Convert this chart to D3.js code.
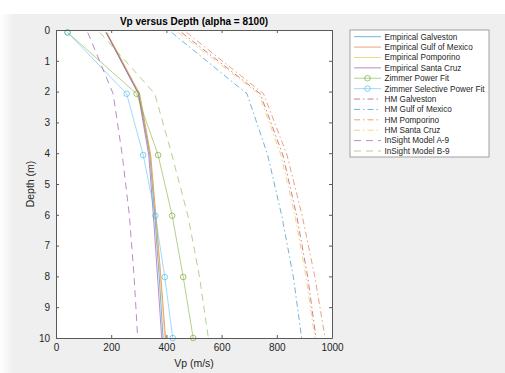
<!DOCTYPE html>
<html>
<head>
<meta charset="utf-8">
<script src="https://cdn.jsdelivr.net/npm/d3@7/dist/d3.min.js"></script>
<style>
  html, body { margin: 0; padding: 0; background: #fff; }
  svg { display: block; font-family: "Liberation Sans", Arial, Helvetica, sans-serif; }
</style>
</head>
<body>
<div id="chart"></div>
<script>
// depth samples (m)
const depths = [0.08, 2.07, 4.06, 6.03, 8.02, 10];

// Vp (m/s) at each depth
const empGalveston = [182, 300, 340, 358, 374, 388];
const empGulf      = [184, 303, 343, 362, 380, 397];
const empPomporino = [183, 302, 342, 361, 378, 394];
const empSantaCruz = [181, 298, 336, 353, 368, 383];
const zimmerPower  = [42, 292, 370, 421, 461, 497];
const zimmerSelect = [42, 256, 316, 360, 394, 423];
const hmGalveston  = [455, 740, 822, 872, 912, 942];
const hmGulf       = [419, 692, 767, 818, 860, 890];
const hmPomporino  = [473, 752, 837, 892, 938, 975];
const hmSantaCruz  = [443, 735, 815, 866, 906, 938];
const insightA9    = [115, 207, 240, 266, 283, 296];
const insightB9    = [159, 358, 420, 478, 520, 552];

const xTicks = [0, 200, 400, 600, 800, 1000];
const yTicks = [0, 1, 2, 3, 4, 5, 6, 7, 8, 9, 10];

const c = ['#0072BD', '#D95319', '#EDB120', '#7E2F8E', '#77AC30', '#4DBEEE', '#A2142F'];

const series = [
    { name: 'Empirical Galveston', v: empGalveston, color: c[0], dash: null },
    { name: 'Empirical Gulf of Mexico', v: empGulf, color: c[1], dash: null },
    { name: 'Empirical Pomporino', v: empPomporino, color: c[2], dash: null },
    { name: 'Empirical Santa Cruz', v: empSantaCruz, color: c[3], dash: null },
    { name: 'Zimmer Power Fit', v: zimmerPower, color: c[4], dash: null, marker: true },
    { name: 'Zimmer Selective Power Fit', v: zimmerSelect, color: c[5], dash: null, marker: true },
    { name: 'HM Galveston', v: hmGalveston, color: c[6], dash: '6,3,1.5,3' },
    { name: 'HM Gulf of Mexico', v: hmGulf, color: c[0], dash: '6,3,1.5,3' },
    { name: 'HM Pomporino', v: hmPomporino, color: c[1], dash: '6,3,1.5,3' },
    { name: 'HM Santa Cruz', v: hmSantaCruz, color: c[2], dash: '6,3,1.5,3' },
    { name: 'InSight Model A-9', v: insightA9, color: c[3], dash: '7,5' },
    { name: 'InSight Model B-9', v: insightB9, color: c[4], dash: '7,5' }
];

const W = 505, H = 373;
const m = { left: 56, right: 173, top: 30, bottom: 35 };

const svg = d3.select('#chart').append('svg')
    .attr('width', W)
    .attr('height', H);

// window background
const defs = svg.append('defs');
const grad = defs.append('linearGradient').attr('id', 'lg');
grad.append('stop').attr('offset', '0%').attr('stop-color', '#ffffff');
grad.append('stop').attr('offset', '100%').attr('stop-color', '#ececec');
svg.append('rect').attr('x', 0).attr('y', 14).attr('width', 16).attr('height', H - 14).attr('fill', 'url(#lg)');
svg.append('rect').attr('x', 14).attr('y', 14).attr('width', W - 14).attr('height', H - 14).attr('fill', '#efefef');

const x = d3.scaleLinear().domain([0, 1000]).range([m.left, W - m.right]);
const y = d3.scaleLinear().domain([0, 10]).range([m.top, H - m.bottom]);

svg.append('rect')
    .attr('x', x(0)).attr('y', y(0))
    .attr('width', x(1000) - x(0)).attr('height', y(10) - y(0))
    .attr('fill', '#fff');

const line = d3.line()
    .x(d => x(d[0]))
    .y(d => y(d[1]));

const plot = svg.append('g');
series.forEach(s => {
    const pts = s.v.map((v, i) => [v, depths[i]]);
    plot.append('path')
        .datum(pts)
        .attr('d', line)
        .attr('fill', 'none')
        .attr('stroke', s.color)
        .attr('stroke-opacity', 0.55)
        .attr('stroke-width', 1)
        .attr('stroke-dasharray', s.dash);
    if (s.marker) {
        plot.selectAll(null)
            .data(pts)
            .enter().append('circle')
            .attr('cx', d => x(d[0]))
            .attr('cy', d => y(d[1]))
            .attr('r', 2.8)
            .attr('fill', 'none')
            .attr('stroke', s.color)
            .attr('stroke-opacity', 0.7);
    }
});

// axes
const axisColor = '#5a5a5a';
const fmt = d3.format('d');
const xAxis = svg.append('g')
    .attr('transform', `translate(0,${y(10)})`)
    .call(d3.axisBottom(x).tickValues(xTicks).tickFormat(fmt).tickSizeInner(-3).tickSizeOuter(0).tickPadding(6));
const xTop = svg.append('g')
    .attr('transform', `translate(0,${y(0)})`)
    .call(d3.axisTop(x).tickValues(xTicks).tickSizeInner(-3).tickSizeOuter(0).tickFormat(''));
const yAxis = svg.append('g')
    .attr('transform', `translate(${x(0)},0)`)
    .call(d3.axisLeft(y).tickValues(yTicks).tickFormat(fmt).tickSizeInner(-3).tickSizeOuter(0).tickPadding(6));
const yRight = svg.append('g')
    .attr('transform', `translate(${x(1000)},0)`)
    .call(d3.axisRight(y).tickValues(yTicks).tickSizeInner(-3).tickSizeOuter(0).tickFormat(''));

[xAxis, xTop, yAxis, yRight].forEach(a => {
    a.select('.domain').attr('stroke', axisColor);
    a.selectAll('.tick line').attr('stroke', axisColor);
    a.selectAll('.tick text').attr('fill', '#262626').style('font-size', '10px');
});

svg.append('text')
    .attr('x', (x(0) + x(1000)) / 2)
    .attr('y', y(10) + 29)
    .attr('text-anchor', 'middle')
    .attr('fill', '#262626')
    .style('font-size', '10.5px')
    .text('Vp (m/s)');

svg.append('text')
    .attr('transform', `translate(${x(0) - 22},${(y(0) + y(10)) / 2}) rotate(-90)`)
    .attr('text-anchor', 'middle')
    .attr('fill', '#262626')
    .style('font-size', '10.5px')
    .text('Depth (m)');

svg.append('text')
    .attr('x', (x(0) + x(1000)) / 2)
    .attr('y', y(0) - 5)
    .attr('text-anchor', 'middle')
    .attr('fill', '#000')
    .style('font-size', '10px')
    .style('font-weight', 'bold')
    .text('Vp versus Depth (alpha = 8100)');

// legend
const lg = svg.append('g').attr('transform', 'translate(350,30)');
lg.append('rect')
    .attr('width', 139).attr('height', 127)
    .attr('fill', '#fff')
    .attr('stroke', '#a0a0a0');
const rowY = d3.scaleLinear().domain([0, 11]).range([6.7, 121]);
series.forEach((s, i) => {
    const g = lg.append('g').attr('transform', `translate(0,${rowY(i)})`);
    g.append('line')
        .attr('x1', 4).attr('x2', 31)
        .attr('stroke', s.color)
        .attr('stroke-opacity', 0.55)
        .attr('stroke-dasharray', s.dash);
    if (s.marker) {
        g.append('circle').attr('cx', 17.5).attr('r', 2.8)
            .attr('fill', 'none').attr('stroke', s.color).attr('stroke-opacity', 0.7);
    }
    g.append('text')
        .attr('x', 34.5).attr('dy', '0.35em')
        .attr('fill', '#262626')
        .style('font-size', '8.2px')
        .text(s.name);
});
</script>
</body>
</html>
